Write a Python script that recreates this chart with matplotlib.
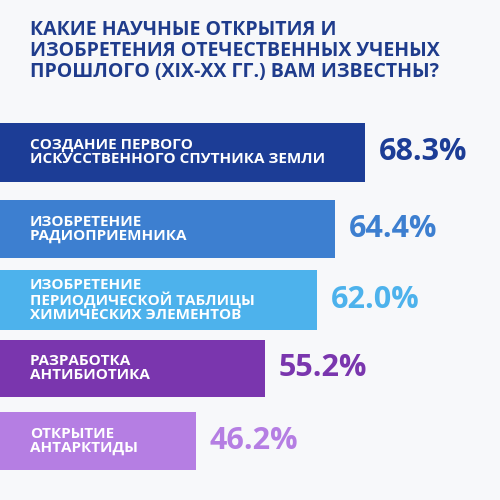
import matplotlib.pyplot as plt

title = "КАКИЕ НАУЧНЫЕ ОТКРЫТИЯ И\nИЗОБРЕТЕНИЯ ОТЕЧЕСТВЕННЫХ УЧЕНЫХ\nПРОШЛОГО (XIX-XX ГГ.) ВАМ ИЗВЕСТНЫ?"
labels = [
    "СОЗДАНИЕ ПЕРВОГО\nИСКУССТВЕННОГО СПУТНИКА ЗЕМЛИ",
    "ИЗОБРЕТЕНИЕ\nРАДИОПРИЕМНИКА",
    "ИЗОБРЕТЕНИЕ\nПЕРИОДИЧЕСКОЙ ТАБЛИЦЫ\nХИМИЧЕСКИХ ЭЛЕМЕНТОВ",
    "РАЗРАБОТКА\nАНТИБИОТИКА",
    "ОТКРЫТИЕ\nАНТАРКТИДЫ",
]
values = [68.3, 64.4, 62.0, 55.2, 46.2]
colors = ["#1c3d96", "#3d7fd0", "#4db2ec", "#7a36ae", "#b57ee3"]

plt.rcParams['font.family'] = ['Open Sans', 'DejaVu Sans']
fig = plt.figure(figsize=(5, 5), dpi=100)
fig.patch.set_facecolor('#f7f8fa')
ax = fig.add_axes([0, 0, 1, 1])
ax.set_facecolor('#f7f8fa')
# left edge of picture corresponds to 20.7 %, 7.67 px per %
v0, k = 20.7, 7.67
ax.set_xlim(v0, v0 + 500 / k)
ax.set_ylim(500, 0)
ax.axis('off')

ys = [152, 229, 300, 368, 441]
hs = [59, 58, 60, 57, 58]
for y, h, v, lab, c in zip(ys, hs, values, labels, colors):
    ax.barh(y, v - v0, left=v0, height=h, color=c)
    ax.text(v0 + 30 / k, y, lab, color='white', fontsize=11,
            fontweight='bold', va='center', ha='left', linespacing=1.0)
    ax.text(v + 14 / k, y, f"{v:.1f}%", color=c, fontsize=22,
            fontweight='bold', va='center', ha='left')

fig.text(30 / 500, 1 - 20 / 500, title, color='#1f3c8c', fontsize=14,
         fontweight='bold', va='top', ha='left', linespacing=1.05)

fig.savefig('out.png', dpi=100, facecolor=fig.get_facecolor())
